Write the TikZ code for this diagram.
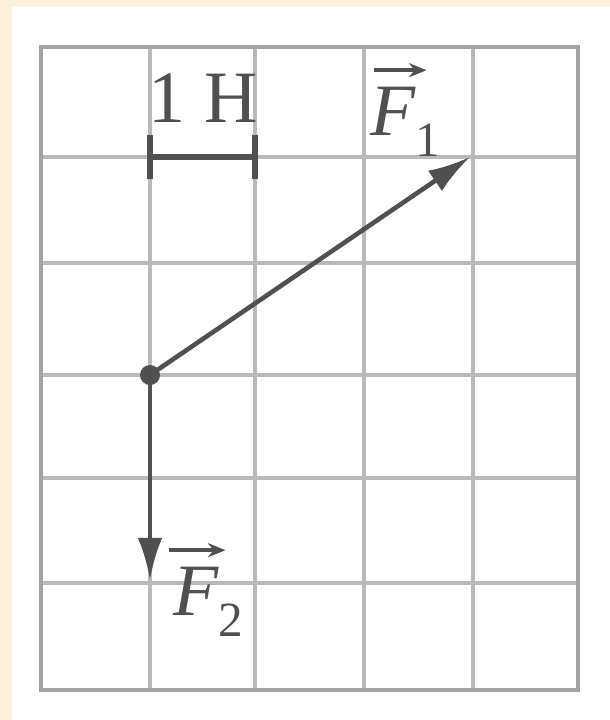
\documentclass[tikz,border=0pt]{standalone}
\usepackage{fontspec}
\setmainfont{Liberation Serif}
\usetikzlibrary{arrows.meta}
\definecolor{cream}{HTML}{FBF1DC}
\definecolor{gridc}{HTML}{B9B9B9}
\definecolor{ink}{HTML}{505050}
\tikzset{
  gridline/.style={draw=gridc, line width=1.0pt},
  border/.style={draw=gridc!88!black, line width=1.2pt},
  force/.style={draw=ink, line width=1.3pt, -{Latex[length=12pt,width=7pt]}},
  scalebar/.style={draw=ink, line width=1.6pt},
  lbl/.style={text=ink, font=\fontsize{21}{25}\selectfont, inner sep=0pt},
  vecarrow/.style={draw=ink, line width=1.1pt, -{Stealth[length=5pt,width=4pt]}},
}
\newcommand{\forcelabel}[1]{{\itshape F}\raisebox{-6pt}{\fontsize{14}{14}\selectfont #1}}
\begin{document}
\begin{tikzpicture}[x=0.01cm,y=-0.01cm]
\fill[cream] (0,0) rectangle (610,720);
\fill[white] (12,7) rectangle (610,720);
\useasboundingbox (0,0) rectangle (610,720);
% grid
\foreach \x in {150,255,364,473}
  \draw[gridline] (\x,47) -- (\x,690);
\foreach \y in {157,263,375,478,583}
  \draw[gridline] (41,\y) -- (578,\y);
\draw[border] (41,47) rectangle (578,690);
% scale bar
\coordinate (s1) at (150,157);
\coordinate (s2) at (255,157);
\draw[scalebar] (s1) -- (s2);
\draw[scalebar] ([yshift=0.22cm]s1) -- ([yshift=-0.22cm]s1);
\draw[scalebar] ([yshift=0.22cm]s2) -- ([yshift=-0.22cm]s2);
\node[lbl] (unit) at (203,98) {1 Н};
% forces
\node[circle, fill=ink, inner sep=0pt, minimum size=0.2cm] (O) at (150,375) {};
\coordinate (F1end) at (470,157);
\coordinate (F2end) at (150,580);
\draw[force] (O.center) -- (F1end);
\draw[force] (O.center) -- (F2end);
% labels
\node[lbl, anchor=north west] (F1) at (370,86) {\forcelabel{1}};
\node[lbl, anchor=north west] (F2) at (173,566) {\forcelabel{2}};
\draw[vecarrow] ([shift={(1pt,4.5pt)}]F1.north west) -- ++(0.53cm,0);
\draw[vecarrow] ([shift={(-1pt,4.5pt)}]F2.north west) -- ++(0.56cm,0);
\end{tikzpicture}
\end{document}
